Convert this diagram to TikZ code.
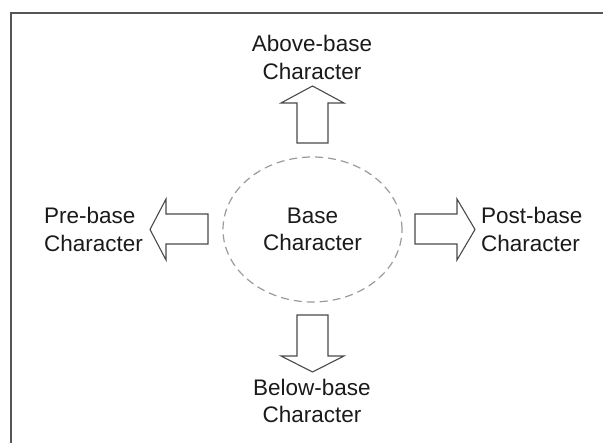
\documentclass[tikz,border=0pt]{standalone}
\usepackage{fontspec}
\setmainfont{Liberation Sans}
\usetikzlibrary{shapes.geometric}
\definecolor{txt}{HTML}{1A1A1A}
\definecolor{arrowline}{HTML}{4A4A4A}
\definecolor{dashgray}{HTML}{9A9A9A}
\definecolor{frame}{HTML}{555555}
\tikzset{
  lbl/.style={inner sep=0pt, text=txt, font=\fontsize{22.5}{27.5}\selectfont},
  blockarrow/.style={draw=arrowline, line width=1.1pt, fill=white, line join=miter},
  basering/.style={ellipse, draw=dashgray, dash pattern=on 8pt off 5pt, line width=1.2pt,
     minimum width=179pt, minimum height=145pt, inner sep=0pt, text=txt,
     font=\fontsize{22.5}{27.5}\selectfont, align=center}
}
\begin{document}
\begin{tikzpicture}[x=1pt,y=-1pt]
\useasboundingbox (0,0) rectangle (603,443);
% frame (top and left lines)
\draw[frame, line width=1.2pt] (603,13) -- (11,13) -- (11,443);
% base
\node[basering] (base) at (312.5,229.5) {Base\\Character};
% labels
\node[lbl, align=center] (above) at (312,57.5) {Above-base\\Character};
\node[lbl, align=center] (below) at (312,401) {Below-base\\Character};
\node[lbl, align=left, anchor=west] (pre) at (44,229.5) {Pre-base\\Character};
\node[lbl, align=left, anchor=west] (post) at (481,229.5) {Post-base\\Character};
% block arrows
\draw[blockarrow] (297,143) -- (297,103) -- (281,103) -- (312.5,86) -- (344,103) -- (328,103) -- (328,143) -- cycle;
\draw[blockarrow] (297,315) -- (297,356) -- (281,356) -- (312.5,372) -- (344,356) -- (328,356) -- (328,315) -- cycle;
\draw[blockarrow] (208,214) -- (166,214) -- (166,199) -- (150,229.5) -- (166,260) -- (166,244) -- (208,244) -- cycle;
\draw[blockarrow] (415,214) -- (457,214) -- (457,199) -- (475,229.5) -- (457,260) -- (457,244) -- (415,244) -- cycle;
\end{tikzpicture}
\end{document}
